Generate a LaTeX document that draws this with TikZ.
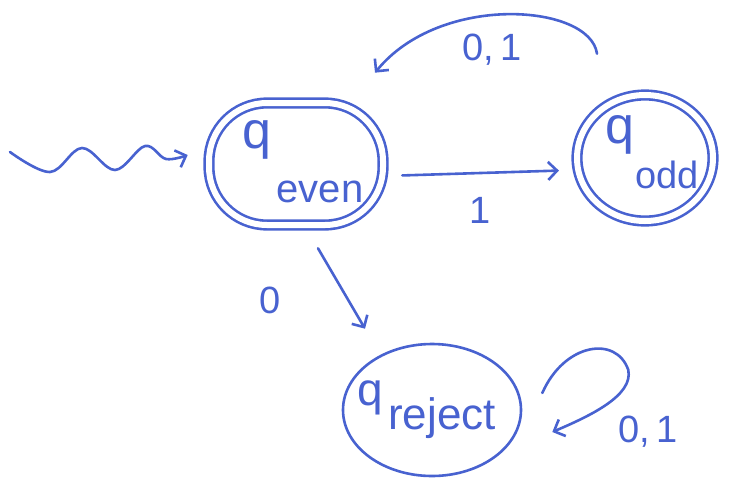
\documentclass[tikz,border=0pt]{standalone}
\usepackage{fontspec}
\setmainfont{Liberation Sans}
\usetikzlibrary{arrows.meta,calc,shapes.geometric}
\definecolor{pen}{RGB}{72,98,208}
\begin{document}
\begin{tikzpicture}[x=1pt,y=-1pt,
  penline/.style={draw=pen, line width=2.6pt, line cap=round, line join=round},
  state/.style={ellipse, penline, inner sep=0pt},
  accept/.style={state, double=white, double distance=6pt},
  arr/.style={penline, -{Straight Barb[length=9pt,width=18pt,line width=2.6pt]}},
  lab/.style={text=pen, inner sep=0pt},
  big/.style={font=\fontsize{38}{42}\selectfont},
  huge/.style={font=\fontsize{52}{56}\selectfont}
]
\useasboundingbox (0,0) rectangle (733,480);

% states
\node[penline, double=white, double distance=6pt, rectangle, rounded corners=58pt,
      minimum width=174pt, minimum height=122pt, inner sep=0pt] (qeven) at (296,164) {};
\node[accept, minimum width=136pt, minimum height=126pt] (qodd) at (645,158) {};
\node[state, minimum width=178pt, minimum height=132pt] (qreject) at (432,410) {};

% state texts
\node[lab, huge] (qe) at (257,140) {q};
\node[lab, font=\fontsize{40}{44}\selectfont] (qesub) at (320,192) {even};
\node[lab, huge] (qo) at (620,135) {q};
\node[lab, font=\fontsize{38}{42}\selectfont] (qosub) at (667,175) {odd};
\node[lab, font=\fontsize{46}{50}\selectfont] (qr) at (370,398) {q};
\node[lab, font=\fontsize{44}{48}\selectfont] (qrsub) at (442,418) {reject};

% start arrow
\coordinate (start) at (10,152);
\coordinate (w1) at (50,172);
\coordinate (w2) at (82,148);
\coordinate (w3) at (115,170);
\coordinate (w4) at (145,146);
\coordinate (w5) at (166,159);
\draw[arr] plot[smooth, tension=0.6] coordinates {(start) (w1) (w2) (w3) (w4) (w5) ($(qeven.west)+(-20,-9)$)};

% transitions
\draw[arr, shorten <=18pt, shorten >=18pt] ($(qeven.east)+(0,12)$) -- (qodd.190);
\node[lab, big] (l1) at (480,210) {1};

\draw[arr] ($(qodd.north)+(-48,-40)$) .. controls +(-7,-50) and +(65,-80) .. ($(qeven.north)+(79,-29)$);
\node[lab, big] (l01a) at (492,50) {0,\,1};

\draw[arr] ($(qeven.south)+(22,22)$) -- ($(qreject.north)+(-67,-14)$);
\node[lab, big] (l0) at (270,300) {0};

\draw[arr] ($(qreject.east)+(20,-17)$) .. controls +(22,-50) and +(-12,-35) .. ($(qreject.east)+(106,-40)$)
  .. controls +(5,25) and +(40,-17) .. ($(qreject.east)+(30,22)$);
\node[lab, big] (l01b) at (648,432) {0,\,1};
\end{tikzpicture}
\end{document}
